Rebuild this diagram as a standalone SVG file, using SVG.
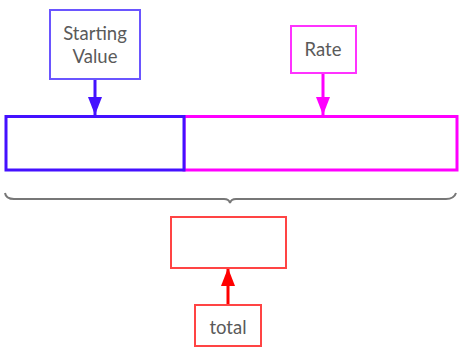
<svg xmlns="http://www.w3.org/2000/svg" width="459" height="347" viewBox="0 0 459 347">
<style>
.t{font-family:Lato,"Liberation Sans",sans-serif;font-size:18.5px;fill:#5a5a5a;text-anchor:middle}
.box{fill:#fff}
</style>
<defs>
<marker id="ab" viewBox="0 0 18 14" refX="18" refY="7" markerWidth="18" markerHeight="14" orient="auto" markerUnits="userSpaceOnUse"><path d="M0,0L18,7L0,14z" fill="#4411ff"/></marker>
<marker id="am" viewBox="0 0 18 14" refX="18" refY="7" markerWidth="18" markerHeight="14" orient="auto" markerUnits="userSpaceOnUse"><path d="M0,0L18,7L0,14z" fill="#ff00ff"/></marker>
<marker id="ar" viewBox="0 0 18 14" refX="18" refY="7" markerWidth="18" markerHeight="14" orient="auto" markerUnits="userSpaceOnUse"><path d="M0,0L18,7L0,14z" fill="#ff0000"/></marker>
</defs>
<rect width="459" height="347" fill="#fff"/>
<g id="connectors" stroke-width="3" fill="none">
<line x1="95" y1="79" x2="95" y2="115" stroke="#4411ff" marker-end="url(#ab)"/>
<line x1="323" y1="73" x2="323" y2="115" stroke="#ff00ff" marker-end="url(#am)"/>
<line x1="228" y1="305" x2="228" y2="268" stroke="#ff0000" marker-end="url(#ar)"/>
</g>
<g id="starting-value">
<rect class="box" x="50" y="10" width="90" height="69" stroke="#6a55ff" stroke-width="2"/>
<text class="t" x="95" y="40">Starting</text>
<text class="t" x="95" y="63">Value</text>
</g>
<g id="rate">
<rect class="box" x="291" y="26" width="65" height="47" stroke="#ff33ff" stroke-width="2"/>
<text class="t" x="323" y="56">Rate</text>
</g>
<g id="rate-bar">
<rect class="box" x="184" y="116.5" width="273" height="53.5" stroke="#ff00ff" stroke-width="3"/>
</g>
<g id="start-bar">
<rect class="box" x="6" y="116.5" width="178" height="53.5" stroke="#4411ff" stroke-width="3"/>
</g>
<g id="brace">
<path d="M5,193Q6,199 14,199L224,199Q229,199 230,203Q231,199 236,199L446,199Q454,199 456,193" fill="none" stroke="#777" stroke-width="2"/>
</g>
<g id="result">
<rect class="box" x="171" y="217" width="115" height="51" stroke="#ff4444" stroke-width="2"/>
</g>
<g id="total">
<rect class="box" x="195" y="305" width="66" height="41" stroke="#ff4444" stroke-width="2"/>
<text class="t" x="228" y="334">total</text>
</g>
</svg>
